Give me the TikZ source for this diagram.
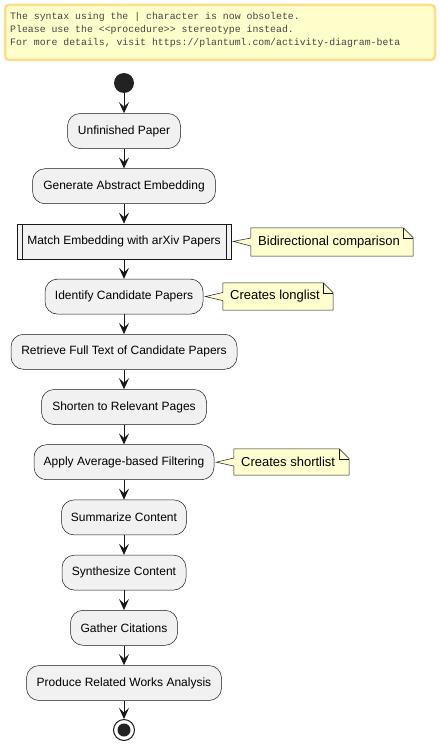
\documentclass[tikz,border=0pt]{standalone}
\usepackage{fontspec}
\setmainfont{Liberation Sans}
\newfontfamily\warnfont{Liberation Mono}
\usetikzlibrary{arrows.meta,calc}
\definecolor{actfill}{HTML}{F1F1F1}
\definecolor{actline}{HTML}{181818}
\definecolor{notefill}{HTML}{FEFECE}
\definecolor{warnfill}{HTML}{FFFFCC}
\definecolor{warnline}{HTML}{FFDD88}
\definecolor{warntext}{HTML}{444444}
\definecolor{startfill}{HTML}{222222}
\tikzset{
  act/.style={draw=actline, line width=0.5pt, fill=actfill, rounded corners=12.5pt,
    minimum height=35pt, inner xsep=0pt, inner ysep=0pt, font=\fontsize{12}{14}\selectfont, text=black},
  procbox/.style={draw=actline, line width=0.5pt, fill=actfill,
    minimum height=35pt, inner xsep=0pt, inner ysep=0pt, font=\fontsize{12}{14}\selectfont, text=black},
  notetext/.style={inner sep=0pt, minimum height=27pt, font=\fontsize{13}{15}\selectfont, text=black},
  flow/.style={draw=actline, line width=1pt, -{Stealth[length=11pt, width=10pt, inset=4.5pt]}},
  warn/.style={anchor=west, inner sep=0pt, font=\warnfont\fontsize{9.85}{11}\selectfont, text=warntext},
}
\begin{document}
\begin{tikzpicture}[x=1pt,y=-1pt]
\useasboundingbox (0,0) rectangle (439,752);
% warning box
\draw[warnline, line width=2.5pt, fill=warnfill, rounded corners=4pt] (5,5) rectangle (435,60);
\node[warn] (w1) at (10,17) {The syntax using the | character is now obsolete.};
\node[warn] (w2) at (10,30) {Please use the <{}<procedure>{}> stereotype instead.};
\node[warn] (w3) at (10,43) {For more details, visit https://plantuml.com/activity-diagram-beta};
% start
\node[circle, fill=startfill, minimum size=20pt, inner sep=0pt] (start) at (124,83) {};
% activities
\node[act, minimum width=113pt] (a1) at (124,131) {Unfinished Paper};
\node[act, minimum width=183pt] (a2) at (124,186.2) {Generate Abstract Embedding};
\node[procbox, minimum width=214pt] (a3) at (124,241.4) {Match Embedding with arXiv Papers};
\draw[actline, line width=0.5pt] ([xshift=5pt]a3.north west) -- ([xshift=5pt]a3.south west);
\draw[actline, line width=0.5pt] ([xshift=-5pt]a3.north east) -- ([xshift=-5pt]a3.south east);
\node[act, minimum width=158pt] (a4) at (124,296.6) {Identify Candidate Papers};
\node[act, minimum width=226pt] (a5) at (124,351.8) {Retrieve Full Text of Candidate Papers};
\node[act, minimum width=165pt] (a6) at (124,407) {Shorten to Relevant Pages};
\node[act, minimum width=180pt] (a7) at (124,462.2) {Apply Average-based Filtering};
\node[act, minimum width=125pt] (a8) at (124,517.4) {Summarize Content};
\node[act, minimum width=124pt] (a9) at (124,572.6) {Synthesize Content};
\node[act, minimum width=107pt] (a10) at (124,627.8) {Gather Citations};
\node[act, minimum width=195pt] (a11) at (124,683) {Produce Related Works Analysis};
% end
\node[circle, draw=actline, line width=1pt, fill=white, minimum size=21pt, inner sep=0pt] (stop) at (124,730) {};
\node[circle, fill=startfill, minimum size=13pt, inner sep=0pt] (stopin) at (stop.center) {};
% notes
\newcommand{\drawnote}[2]{%
  \filldraw[actline, fill=notefill, line width=0.5pt] (#1.north west) -- ([xshift=-10pt]#1.north east) -- ([yshift=-10pt]#1.north east) -- (#1.south east) -- (#1.south west) -- ([yshift=-4pt]#1.west) -- ([xshift=2pt]#2.east) -- ([yshift=4pt]#1.west) -- cycle;
  \draw[actline, line width=0.5pt] ([xshift=-10pt]#1.north east) -- ([xshift=-10pt,yshift=-10pt]#1.north east) -- ([yshift=-10pt]#1.north east);
}
\node[notetext, minimum width=162pt, minimum height=28pt] (n1) at (332,242) {};
\drawnote{n1}{a3}
\node[notetext, anchor=west] (n1t) at (258,242) {Bidirectional comparison};
\node[notetext, minimum width=110pt] (n2) at (278,296.5) {};
\drawnote{n2}{a4}
\node[notetext, anchor=west] (n2t) at (230,296.5) {Creates longlist};
\node[notetext, minimum width=115pt, minimum height=26pt] (n3) at (291.5,462) {};
\drawnote{n3}{a7}
\node[notetext, anchor=west] (n3t) at (241,462) {Creates shortlist};
% flows
\draw[flow] (start) -- (a1);
\draw[flow] (a1) -- (a2);
\draw[flow] (a2) -- (a3);
\draw[flow] (a3) -- (a4);
\draw[flow] (a4) -- (a5);
\draw[flow] (a5) -- (a6);
\draw[flow] (a6) -- (a7);
\draw[flow] (a7) -- (a8);
\draw[flow] (a8) -- (a9);
\draw[flow] (a9) -- (a10);
\draw[flow] (a10) -- (a11);
\draw[flow] (a11) -- (stop);
\end{tikzpicture}
\end{document}
